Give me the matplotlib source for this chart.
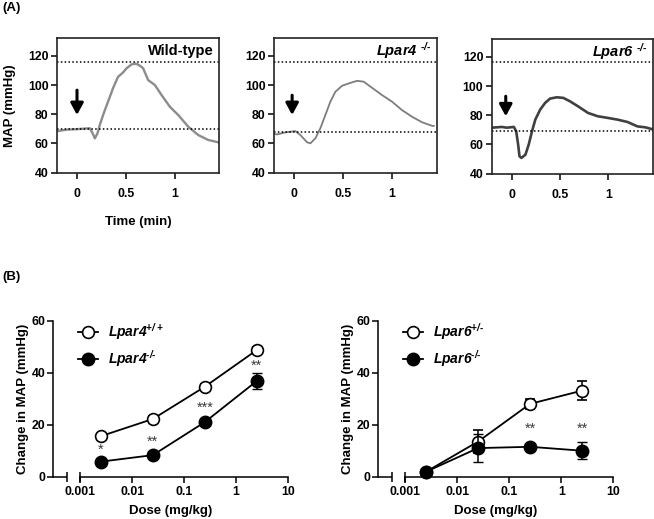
import matplotlib
matplotlib.use("Agg")
import matplotlib.pyplot as plt
import numpy as np
from matplotlib.lines import Line2D
from matplotlib.ticker import FixedLocator, FixedFormatter, NullLocator

plt.rcParams['font.family'] = ['Liberation Sans', 'DejaVu Sans']
plt.rcParams['font.weight'] = 'bold'
plt.rcParams['mathtext.fontset'] = 'custom'
plt.rcParams['mathtext.rm'] = 'Liberation Sans:italic:bold'
plt.rcParams['mathtext.it'] = 'Liberation Sans:italic:bold'
plt.rcParams['mathtext.bf'] = 'Liberation Sans:italic:bold'

HY = '\u2010'  # short hyphen for genotype superscripts

# ---------------- Panel A data (time in min, MAP in mmHg) ----------------
wt_t = [-0.2, -0.1, 0.0, 0.1, 0.13, 0.16, 0.183, 0.21, 0.233, 0.27, 0.318, 0.37, 0.42,
        0.47, 0.507, 0.558, 0.6, 0.627, 0.66, 0.678, 0.729, 0.798, 0.867, 0.952, 1.037,
        1.14, 1.242, 1.345, 1.448]
wt_map = [68.5, 69.5, 69.8, 70.3, 70.5, 67.0, 63.5, 67.0, 72.6, 80.0, 88.6, 98.0, 105.6,
          108.5, 111.4, 114.1, 114.6, 114.0, 112.5, 111.4, 103.4, 100.0, 93.1, 85.1, 79.5,
          71.5, 65.8, 62.4, 60.8]

l4_t = [-0.2, -0.173, -0.089, 0.013, 0.064, 0.133, 0.166, 0.217, 0.268, 0.319, 0.37, 0.421,
        0.49, 0.557, 0.643, 0.71, 0.796, 0.898, 1.0, 1.10, 1.204, 1.306, 1.408, 1.425]
l4_map = [66.5, 66.2, 67.6, 68.5, 65.8, 60.8, 60.1, 63.5, 70.4, 79.5, 88.6, 95.4,
          99.5, 101.1, 102.9, 102.3, 98.1, 93.1, 88.6, 82.9, 78.3, 74.5, 72.1, 72.0]

l6_t = [-0.2, -0.163, -0.1, -0.05, 0.024, 0.048, 0.068, 0.082, 0.102, 0.143, 0.177, 0.211,
        0.245, 0.296, 0.347, 0.398, 0.466, 0.534, 0.602, 0.687, 0.789, 0.891, 0.993, 1.095,
        1.197, 1.299, 1.384, 1.45]
l6_map = [71.5, 71.7, 72.0, 71.5, 72.0, 69.0, 59.9, 51.9, 50.8, 53.0, 59.9, 69.0,
          77.0, 83.9, 88.5, 91.4, 92.3, 91.9, 89.6, 86.1, 81.6, 79.3, 78.2, 77.0,
          75.4, 72.4, 71.7, 70.5]

a_titles = ['Wild-type', 'Lpar4 $^{' + HY + '/' + HY + '}$', 'Lpar6 $^{' + HY + '/' + HY + '}$']
a_title_italic = [False, True, True]
a_ref_high = [115.5, 115.5, 116.6]
a_ref_low = [69.7, 68.0, 69.0]
a_arrow_x = [0.0, -0.02, -0.06]
a_arrow_top = [96.5, 93.0, 93.0]
a_arrow_tip = [79.5, 79.5, 79.3]
a_colors = ['#8c8c8c', '#7d7d7d', '#404040']
a_lw = [1.7, 1.3, 1.9]
a_xticks = [0, 0.5, 1]
a_xticklabels = ['0', '0.5', '1']
a_yticks = [40, 60, 80, 100, 120]

# ---------------- Panel B data ----------------
dose = [0.0025, 0.025, 0.25, 2.5]
dose_ticks = [0.001, 0.01, 0.1, 1, 10]
dose_ticklabels = ['0.001', '0.01', '0.1', '1', '10']

l4_wt = [15.6, 22.2, 34.6, 48.7]
l4_wt_err = [1.0, 1.0, 1.2, 1.2]
l4_ko = [5.8, 8.3, 21.0, 36.8]
l4_ko_err = [1.0, 1.0, 1.0, 3.0]
l4_stars = ['*', '**', '***', '**']
l4_star_y = [10.5, 13.5, 26.5, 42.5]

l6_het = [1.9, 13.5, 28.0, 33.1]
l6_het_err = [0.5, 4.3, 2.0, 3.7]
l6_ko = [1.9, 11.0, 11.5, 10.0]
l6_ko_err = [0.5, 5.5, 1.0, 3.2]
l6_stars = ['', '', '**', '**']
l6_star_y = [0, 0, 18.5, 18.5]

W, H = 654, 519
fig = plt.figure(figsize=(W / 100, H / 100), dpi=100)


def frac(left, top, right, bottom):
    return [left / W, (H - bottom) / H, (right - left) / W, (bottom - top) / H]


a_boxes = [frac(57, 38, 219, 173), frac(274, 38, 436.7, 173), frac(491.7, 39, 652.5, 174)]
traces = [(wt_t, wt_map), (l4_t, l4_map), (l6_t, l6_map)]

for i, box in enumerate(a_boxes):
    ax = fig.add_axes(box)
    t, m = traces[i]
    ax.plot(t, m, color=a_colors[i], lw=a_lw[i], solid_joinstyle='round')
    ax.axhline(a_ref_high[i], color='k', lw=1.1, ls=(0, (1, 1.5)))
    ax.axhline(a_ref_low[i], color='k', lw=1.1, ls=(0, (1, 1.5)))
    ax.annotate('', xy=(a_arrow_x[i], a_arrow_tip[i]), xytext=(a_arrow_x[i], a_arrow_top[i]),
                arrowprops=dict(arrowstyle='-|>,head_length=0.7,head_width=0.38', lw=2.2,
                                color='k', shrinkA=0, shrinkB=0))
    ax.set_xlim(-0.205, 1.455)
    ax.set_ylim(39.8, 132.2)
    ax.set_xticks(a_xticks)
    ax.set_xticklabels(a_xticklabels)
    ax.set_yticks(a_yticks)
    ax.tick_params(axis='both', labelsize=8.8, width=1.1, length=4, direction='out')
    ax.tick_params(axis='x', pad=7)
    ax.tick_params(axis='y', pad=2)
    for sp in ax.spines.values():
        sp.set_linewidth(1.2)
        sp.set_color('#222222')
    ax.text(0.97, 0.905, a_titles[i], transform=ax.transAxes, ha='right', va='center',
            fontsize=10.5, fontweight='bold', style='italic' if a_title_italic[i] else 'normal')
    if i == 0:
        ax.set_ylabel('MAP (mmHg)', fontsize=9.5, fontweight='bold', labelpad=9)
        ax.set_xlabel('Time (min)', fontsize=9.5, fontweight='bold', labelpad=11)

fig.text(2 / W, 1 - 8 / H, '(A)', fontsize=9.5, fontweight='bold', va='center', ha='left')
fig.text(2 / W, 1 - 277 / H, '(B)', fontsize=9.5, fontweight='bold', va='center', ha='left')

# ---------------- Panel B ----------------
b_boxes = [frac(53.3, 320.7, 288, 476.7), frac(378.3, 320.7, 613.3, 476.7)]
b_sets = [
    (l4_wt, l4_wt_err, l4_ko, l4_ko_err, l4_stars, l4_star_y,
     'Lpar4$^{+/+}$', 'Lpar4$^{' + HY + '/' + HY + '}$'),
    (l6_het, l6_het_err, l6_ko, l6_ko_err, l6_stars, l6_star_y,
     'Lpar6$^{+/' + HY + '}$', 'Lpar6$^{' + HY + '/' + HY + '}$'),
]
xleft = 10 ** -3.52
seg_end = 10 ** -3.25

for i, box in enumerate(b_boxes):
    ax = fig.add_axes(box)
    ax.set_xscale('log')
    yo, yoe, yc, yce, stars, sy, lab_o, lab_c = b_sets[i]
    ax.errorbar(dose, yo, yerr=yoe, color='k', lw=1.3, marker='o', ms=8.5,
                mfc='white', mec='k', mew=1.2, capsize=3.5, elinewidth=1.1, capthick=1.1,
                clip_on=False, zorder=3)
    ax.errorbar(dose, yc, yerr=yce, color='k', lw=1.3, marker='o', ms=9,
                mfc='k', mec='k', mew=1.0, capsize=3.5, elinewidth=1.1, capthick=1.1,
                clip_on=False, zorder=4)
    for xd, s, yy in zip(dose, stars, sy):
        if s:
            ax.text(xd, yy, s, ha='center', va='center', fontsize=10.5, color='#3a3a3a',
                    fontweight='normal')
    ax.set_xlim(xleft, 10)
    ax.set_ylim(0, 60)
    ax.spines['top'].set_visible(False)
    ax.spines['right'].set_visible(False)
    ax.spines['bottom'].set_bounds(0.001, 10)
    for sp in ax.spines.values():
        sp.set_linewidth(1.1)
    ax.xaxis.set_major_locator(FixedLocator(dose_ticks))
    ax.xaxis.set_major_formatter(FixedFormatter(dose_ticklabels))
    ax.xaxis.set_minor_locator(NullLocator())
    ax.set_yticks([0, 20, 40, 60])
    ax.tick_params(axis='both', labelsize=8.8, width=1.1, length=4, direction='out')
    ax.tick_params(axis='x', pad=3)
    ax.tick_params(axis='y', pad=1.5)
    tr = ax.get_xaxis_transform()
    ax.plot([xleft, seg_end], [0, 0], color='k', lw=1.1, transform=tr, clip_on=False,
            solid_capstyle='butt')
    ax.plot([seg_end, 0.001], [0, 0], color='k', lw=0, marker='|', ms=7, mew=1.1,
            transform=tr, clip_on=False)
    ax.set_xlabel('Dose (mg/kg)', fontsize=9.5, fontweight='bold', labelpad=5)
    ax.set_ylabel('Change in MAP (mmHg)', fontsize=9.5, fontweight='bold', labelpad=2)
    handles = [
        Line2D([], [], color='k', lw=1.3, marker='o', ms=8.5, mfc='white', mec='k', mew=1.2),
        Line2D([], [], color='k', lw=1.3, marker='o', ms=9, mfc='k', mec='k'),
    ]
    ax.legend(handles, [lab_o, lab_c], loc='upper left', bbox_to_anchor=(0.105, 0.995),
              frameon=False, borderpad=0, borderaxespad=0, handlelength=1.45,
              handletextpad=0.7, labelspacing=0.4,
              prop=dict(family='Liberation Sans', weight='bold', style='italic', size=10))

fig.savefig('out.png', dpi=100)
